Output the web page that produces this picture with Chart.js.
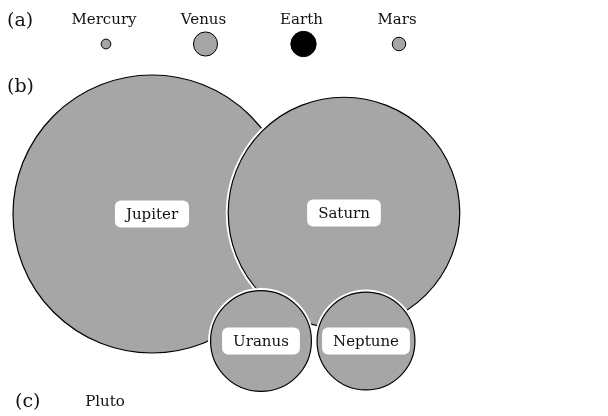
<!DOCTYPE html>
<html>
<head>
<meta charset="utf-8">
<script src="https://cdn.jsdelivr.net/npm/chart.js@4"></script>
<style>
  html, body { margin: 0; padding: 0; background: #ffffff; }
  #wrap { width: 608px; height: 416px; position: relative; }
</style>
</head>
<body>
<div id="wrap"><canvas id="planetChart"></canvas></div>
<script>
// ---- data ----
// planet names and mean radius in km
const innerPlanets = ['Mercury', 'Venus', 'Earth', 'Mars'];
const innerRadiusKm = [2440, 6052, 6371, 3390];
const innerX = [106, 205.5, 303.5, 399];
const innerY = [44, 44, 44, 44];

const outerPlanets = ['Jupiter', 'Saturn', 'Uranus', 'Neptune'];
const outerRadiusKm = [69911, 58232, 25362, 24622];
const outerX = [152, 344, 261, 366];
const outerY = [214, 213, 341, 341];

const dwarfPlanets = ['Pluto'];
const dwarfX = [105];
const dwarfY = [402];

const panelLabels = ['(a)', '(b)', '(c)'];

// layout units are km / KM_PER_UNIT
const KM_PER_UNIT = 503;

const FONT = '"DejaVu Serif", "Liberation Serif", serif';
const GREY = '#a6a6a6';

function kmToPx(chart, km) {
    const s = chart.scales.x;
    return s.getPixelForValue(km / KM_PER_UNIT) - s.getPixelForValue(0);
}

// ---- datasets ----
const datasets = [];
let drawSeq = 0; // higher order = drawn earlier (underneath)

datasets.push({
    label: 'inner',
    data: innerX.map((x, i) => ({ x: x, y: innerY[i], r: 0, km: innerRadiusKm[i] })),
    backgroundColor: innerPlanets.map(p => p === 'Earth' ? '#000000' : GREY),
    borderColor: '#000000',
    borderWidth: 1,
    clip: false,
    order: 100 - drawSeq++
});

outerPlanets.forEach((name, i) => {
    // white halo underneath each big planet
    datasets.push({
        label: name + ' halo',
        halo: 2.5,
        data: [{ x: outerX[i], y: outerY[i], r: 0, km: outerRadiusKm[i] }],
        backgroundColor: '#ffffff',
        borderWidth: 0,
        clip: false,
        order: 100 - drawSeq++
    });
    datasets.push({
        label: name,
        data: [{ x: outerX[i], y: outerY[i], r: 0, km: outerRadiusKm[i] }],
        backgroundColor: GREY,
        borderColor: '#000000',
        borderWidth: 1.2,
        clip: false,
        order: 100 - drawSeq++
    });
});

datasets.push({
    label: 'dwarf',
    data: dwarfX.map((x, i) => ({ x: x, y: dwarfY[i], r: 0 })),
    borderWidth: 0,
    clip: false,
    order: 100 - drawSeq++
});

// ---- labels plugin ----
const labelPlugin = {
    id: 'planetLabels',
    afterDatasetsDraw(chart) {
        const ctx = chart.ctx;
        ctx.save();
        ctx.textAlign = 'center';
        ctx.textBaseline = 'middle';
        ctx.fillStyle = '#111111';

        // (a) names above the small circles
        ctx.font = '15px ' + FONT;
        const innerMeta = chart.getDatasetMeta(0);
        innerMeta.data.forEach((el, i) => {
            ctx.fillText(innerPlanets[i], el.x - 2, 20);
        });

        // (b) names in white rounded boxes
        chart.data.datasets.forEach((ds, di) => {
            const idx = outerPlanets.indexOf(ds.label);
            if (idx < 0) return;
            const el = chart.getDatasetMeta(di).data[0];
            const name = outerPlanets[idx];
            const w = ctx.measureText(name).width + 22;
            const h = 27;
            ctx.fillStyle = '#ffffff';
            ctx.beginPath();
            ctx.roundRect(el.x - w / 2, el.y - h / 2, w, h, 6);
            ctx.fill();
            ctx.fillStyle = '#111111';
            ctx.fillText(name, el.x, el.y + 1);
        });

        // (c) dwarf planet names
        const dwarfMeta = chart.getDatasetMeta(chart.data.datasets.length - 1);
        dwarfMeta.data.forEach((el, i) => {
            ctx.fillText(dwarfPlanets[i], el.x, el.y);
        });

        // panel letters
        ctx.font = '19px ' + FONT;
        ctx.textAlign = 'left';
        ctx.fillText(panelLabels[0], 7, 21);
        ctx.fillText(panelLabels[1], 7, 87);
        ctx.fillText(panelLabels[2], 15, 402);
        ctx.restore();
    }
};

const chart = new Chart(document.getElementById('planetChart'), {
    type: 'bubble',
    data: { datasets: datasets },
    options: {
        responsive: true,
        maintainAspectRatio: false,
        animation: false,
        events: [],
        layout: { padding: 0, autoPadding: false },
        plugins: {
            legend: { display: false },
            tooltip: { enabled: false }
        },
        scales: {
            x: { type: 'linear', min: 0, max: 608, display: false },
            y: { type: 'linear', min: 0, max: 416, reverse: true, display: false }
        }
    },
    plugins: [labelPlugin]
});

// bubble radius in pixels from the planet radius, through the x scale
chart.data.datasets.forEach(ds => {
    ds.data.forEach(pt => {
        if (pt.km) pt.r = kmToPx(chart, pt.km) + (ds.halo || 0);
    });
});
chart.update('none');
</script>
</body>
</html>
